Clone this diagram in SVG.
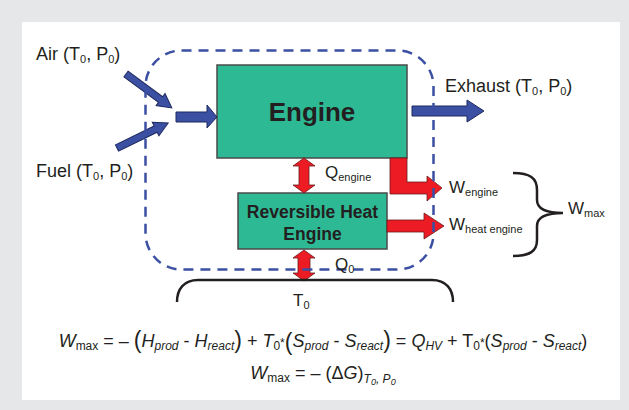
<svg xmlns="http://www.w3.org/2000/svg" width="629" height="410" viewBox="0 0 629 410">
<style>
text{font-family:"Liberation Sans",Arial,sans-serif;fill:#231f20}
.lbl{font-size:17px}
.big{font-size:18px}
.sub{font-size:11px}
.box{fill:#2eb995;stroke:#4a4a4a;stroke-width:1.5}
.bt{font-weight:bold;text-anchor:middle}
.blue{fill:#3b4fa3;stroke:#1e2a5e;stroke-width:1}
.red{fill:#ed1c24;stroke:#6b1a1a;stroke-width:0.8}
.brace{fill:none;stroke:#231f20;stroke-width:2.5}
.eq{font-size:18px}
.it{font-style:italic}
.es{font-size:12px}
</style>
<rect x="0" y="0" width="629" height="410" fill="#e6e7e8"/>
<rect x="22" y="22" width="598" height="378" fill="#ffffff"/>

<g id="engine">
<rect class="box" x="217" y="65" width="190" height="93"/>
<text class="bt" x="312" y="121" font-size="26">Engine</text>
</g>

<g id="reversible-heat-engine">
<rect class="box" x="238" y="193" width="149" height="56"/>
<text class="bt" x="312.5" y="218" font-size="17.5">Reversible Heat</text>
<text class="bt" x="312.5" y="240" font-size="17.5">Engine</text>
</g>

<g id="connectors">
<polygon class="blue" transform="translate(126,74) rotate(36.5)" points="0,-3.5 43,-3.5 43,-7.5 57,0 43,7.5 43,3.5 0,3.5"/>
<polygon class="blue" transform="translate(117,148) rotate(-26.1)" points="0,-3.5 43,-3.5 43,-7.5 57,0 43,7.5 43,3.5 0,3.5"/>
<polygon class="blue" points="176,112 207,112 207,105 217,117 207,128 207,122 176,122"/>
<polygon class="blue" points="412,106 467,106 467,100 484,111 467,122 467,116 412,116"/>
<polygon class="red" points="304,158 315,166 309,166 309,185 315,185 304,193 293,185 299,185 299,166 293,166"/>
<polygon class="red" points="304,250 315,258 310,258 310,273 315,273 304,281 293,273 298,273 298,258 293,258"/>
<polygon class="red" points="390,158 407,158 407,182 427,182 427,176 442,188 427,201 427,194 390,194"/>
<polygon class="red" points="387,220 424,220 424,213 444,226 424,239 424,232 387,232"/>
</g>

<g id="boundary">
<rect x="145.5" y="50.5" width="288" height="219" rx="36" fill="none" stroke="#3b4fa3" stroke-width="2.5" stroke-dasharray="10 7"/>
</g>

<g id="braces">
<path class="brace" d="M177,302 C177,289 184,280 198,280 L432,280 C446,280 453,289 453,302"/>
<path class="brace" d="M513,173 C530,173 537,178 537,190 L537,200 C537,208 545,213 563,213 C545,213 537,218 537,226 L537,240 C537,251 530,256 513,256"/>
</g>

<g id="labels">
<text class="big" x="36" y="60">Air (T<tspan class="sub" dy="3">0</tspan><tspan dy="-3">, P</tspan><tspan class="sub" dy="3">0</tspan><tspan dy="-3">)</tspan></text>
<text class="big" x="36" y="177">Fuel (T<tspan class="sub" dy="3">0</tspan><tspan dy="-3">, P</tspan><tspan class="sub" dy="3">0</tspan><tspan dy="-3">)</tspan></text>
<text class="big" x="445" y="92">Exhaust (T<tspan class="sub" dy="3">0</tspan><tspan dy="-3">, P</tspan><tspan class="sub" dy="3">0</tspan><tspan dy="-3">)</tspan></text>
<text class="lbl" x="325" y="178">Q<tspan class="sub" dy="3">engine</tspan></text>
<text class="lbl" x="335" y="270">Q<tspan class="sub" dy="3">0</tspan></text>
<text class="lbl" x="293" y="306">T<tspan class="sub" dy="3">0</tspan></text>
<text class="lbl" x="449" y="193">W<tspan class="sub" dy="3">engine</tspan></text>
<text class="lbl" x="449" y="230">W<tspan class="sub" dy="3">heat engine</tspan></text>
<text class="lbl" x="568" y="214">W<tspan class="sub" dy="3">max</tspan></text>
</g>

<g id="equations">
<text class="eq" x="323" y="347" text-anchor="middle"><tspan class="it">W</tspan><tspan class="es" dy="3">max</tspan><tspan dy="-3"> = – </tspan><tspan font-size="23" dy="1">(</tspan><tspan class="it" dy="-1">H</tspan><tspan class="es it" dy="3">prod</tspan><tspan dy="-3"> - </tspan><tspan class="it">H</tspan><tspan class="es it" dy="3">react</tspan><tspan font-size="23" dy="-2">)</tspan><tspan dy="-1"> + </tspan><tspan class="it">T</tspan><tspan class="es" dy="3">0</tspan><tspan class="es" dy="-3">*</tspan><tspan font-size="23" dy="3">(</tspan><tspan class="it" dy="-3">S</tspan><tspan class="es it" dy="3">prod</tspan><tspan dy="-3"> - </tspan><tspan class="it">S</tspan><tspan class="es it" dy="3">react</tspan><tspan font-size="23" dy="-2">)</tspan><tspan dy="-1"> = </tspan><tspan class="it">Q</tspan><tspan class="es it" dy="3">HV</tspan><tspan dy="-3"> + T</tspan><tspan class="es" dy="3">0</tspan><tspan class="es" dy="-3">*</tspan><tspan>(</tspan><tspan class="it">S</tspan><tspan class="es it" dy="3">prod</tspan><tspan dy="-3"> - </tspan><tspan class="it">S</tspan><tspan class="es it" dy="3">react</tspan><tspan dy="-3">)</tspan></text>
<text class="eq" x="323" y="379" text-anchor="middle"><tspan class="it">W</tspan><tspan class="es" dy="3">max</tspan><tspan dy="-3"> = – (Δ</tspan><tspan class="it">G</tspan><tspan>)</tspan><tspan class="es it" dy="4">T</tspan><tspan class="it" font-size="9" dy="2">0</tspan><tspan class="es it" dy="-2">, P</tspan><tspan class="it" font-size="9" dy="2">0</tspan></text>
</g>
</svg>
